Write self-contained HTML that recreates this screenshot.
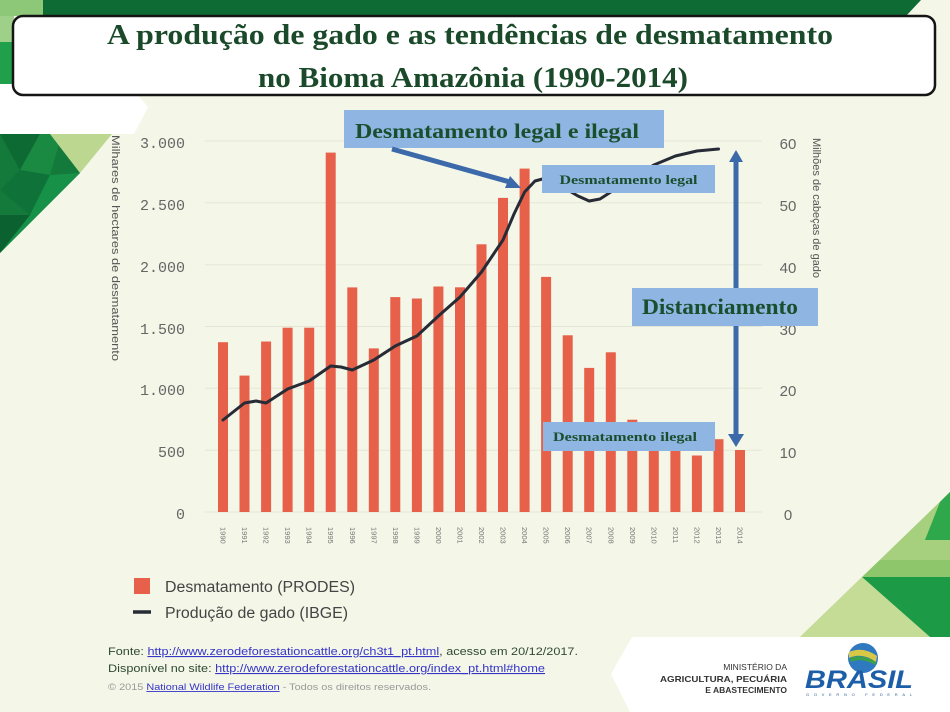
<!DOCTYPE html>
<html><head><meta charset="utf-8"><style>
html,body{margin:0;padding:0;background:#f4f6e8;}
svg{display:block;}
</style></head><body>
<svg width="950" height="712" viewBox="0 0 950 712" xmlns="http://www.w3.org/2000/svg">
<rect width="950" height="712" fill="#f4f6e8"/>
<!-- top band -->
<rect x="0" y="0" width="45" height="16" fill="#8cc878"/>
<polygon points="43,0 921,0 906,16 43,16" fill="#0f6b34"/>
<rect x="0" y="16" width="14" height="26" fill="#9fd08a"/>
<rect x="0" y="42" width="14" height="45" fill="#20a04a"/>
<!-- top-left decoration -->
<polygon points="0,84 128,84 148,107 134,134 0,134" fill="#ffffff"/>
<polygon points="0,134 62,134 80,173 0,253" fill="#137a3b"/>
<polygon points="0,134 40,134 20,170" fill="#0d6a33"/>
<polygon points="20,170 40,134 62,134 50,175" fill="#1a8a43"/>
<polygon points="0,190 20,170 50,175 30,215" fill="#0f7339"/>
<polygon points="0,253 30,215 50,175 80,173" fill="#179048"/>
<polygon points="0,215 30,215 0,253" fill="#0b6230"/>
<polygon points="50,134 112,134 80,173" fill="#bcd78f"/>
<!-- bottom-right decoration -->
<polygon points="800,637 950,492 950,637" fill="#a6cf7e"/>
<polygon points="940,502 950,492 950,540 925,540" fill="#2ea84a"/>
<polygon points="862,577 950,577 950,637 930,637" fill="#1c9a45"/>
<polygon points="800,637 862,577 930,637" fill="#c4dc95"/>
<polygon points="880,560 950,560 950,577 862,577" fill="#8ec66c"/>
<polygon points="632,637 950,637 950,712 630,712 611,674" fill="#ffffff"/>
<!-- title box -->
<rect x="13" y="16" width="922" height="79" rx="10" ry="10" fill="#ffffff" stroke="#151515" stroke-width="2.5"/>
<g font-family="Liberation Serif, serif" font-weight="bold" fill="#1b4a2b" text-anchor="middle">
<text x="470" y="44" font-size="28" textLength="726" lengthAdjust="spacingAndGlyphs">A produção de gado e as tendências de desmatamento</text>
<text x="473" y="87" font-size="28" textLength="430" lengthAdjust="spacingAndGlyphs">no Bioma Amazônia (1990-2014)</text>
</g>
<!-- gridlines -->
<g stroke="#e3e6d6" stroke-width="1">
<line x1="205" y1="141" x2="762" y2="141"/>
<line x1="205" y1="202.8" x2="762" y2="202.8"/>
<line x1="205" y1="264.7" x2="762" y2="264.7"/>
<line x1="205" y1="326.5" x2="762" y2="326.5"/>
<line x1="205" y1="388.3" x2="762" y2="388.3"/>
<line x1="205" y1="450.2" x2="762" y2="450.2"/>
<line x1="205" y1="512" x2="762" y2="512"/>
</g>
<!-- left tick labels -->
<g font-family="Liberation Mono, monospace" font-size="15" fill="#666" text-anchor="end">
<text x="185" y="148">3.000</text>
<text x="185" y="210">2.500</text>
<text x="185" y="272">2.000</text>
<text x="185" y="334">1.500</text>
<text x="185" y="395">1.000</text>
<text x="185" y="457">500</text>
<text x="185" y="519">0</text>
</g>
<!-- right tick labels -->
<g font-family="Liberation Sans, sans-serif" font-size="15" fill="#666" text-anchor="middle">
<text x="788" y="149">60</text>
<text x="788" y="211">50</text>
<text x="788" y="273">40</text>
<text x="788" y="335">30</text>
<text x="788" y="396">20</text>
<text x="788" y="458">10</text>
<text x="788" y="520">0</text>
</g>
<!-- axis titles -->
<text transform="translate(112,135) rotate(90)" font-family="Liberation Sans, sans-serif" font-size="11" fill="#555" textLength="226" lengthAdjust="spacingAndGlyphs">Milhares de hectares de desmatamento</text>
<text transform="translate(813,138) rotate(90)" font-family="Liberation Sans, sans-serif" font-size="11" fill="#555">Milhões de cabeças de gado</text>
<!-- bars -->
<g fill="#e6604a">
<rect x="218.0" y="342.2" width="10" height="169.8"/>
<rect x="239.5" y="375.6" width="10" height="136.4"/>
<rect x="261.1" y="341.5" width="10" height="170.5"/>
<rect x="282.6" y="327.7" width="10" height="184.3"/>
<rect x="304.2" y="327.7" width="10" height="184.3"/>
<rect x="325.7" y="152.6" width="10" height="359.4"/>
<rect x="347.3" y="287.4" width="10" height="224.6"/>
<rect x="368.8" y="348.4" width="10" height="163.6"/>
<rect x="390.3" y="297.1" width="10" height="214.9"/>
<rect x="411.9" y="298.5" width="10" height="213.5"/>
<rect x="433.4" y="286.5" width="10" height="225.5"/>
<rect x="455.0" y="287.3" width="10" height="224.7"/>
<rect x="476.5" y="244.3" width="10" height="267.7"/>
<rect x="498.0" y="197.9" width="10" height="314.1"/>
<rect x="519.6" y="168.6" width="10" height="343.4"/>
<rect x="541.1" y="276.9" width="10" height="235.1"/>
<rect x="562.7" y="335.3" width="10" height="176.7"/>
<rect x="584.2" y="367.9" width="10" height="144.1"/>
<rect x="605.8" y="352.3" width="10" height="159.7"/>
<rect x="627.3" y="419.7" width="10" height="92.3"/>
<rect x="648.8" y="425.4" width="10" height="86.6"/>
<rect x="670.4" y="432.6" width="10" height="79.4"/>
<rect x="691.9" y="455.5" width="10" height="56.5"/>
<rect x="713.5" y="439.2" width="10" height="72.8"/>
<rect x="735.0" y="450.0" width="10" height="62.0"/>
</g>
<!-- year labels -->
<g font-family="Liberation Sans, sans-serif" font-size="7.5" fill="#777">
<text transform="translate(220.5,527) rotate(90)">1990</text>
<text transform="translate(242.0,527) rotate(90)">1991</text>
<text transform="translate(263.6,527) rotate(90)">1992</text>
<text transform="translate(285.1,527) rotate(90)">1993</text>
<text transform="translate(306.7,527) rotate(90)">1994</text>
<text transform="translate(328.2,527) rotate(90)">1995</text>
<text transform="translate(349.8,527) rotate(90)">1996</text>
<text transform="translate(371.3,527) rotate(90)">1997</text>
<text transform="translate(392.8,527) rotate(90)">1998</text>
<text transform="translate(414.4,527) rotate(90)">1999</text>
<text transform="translate(435.9,527) rotate(90)">2000</text>
<text transform="translate(457.5,527) rotate(90)">2001</text>
<text transform="translate(479.0,527) rotate(90)">2002</text>
<text transform="translate(500.5,527) rotate(90)">2003</text>
<text transform="translate(522.1,527) rotate(90)">2004</text>
<text transform="translate(543.6,527) rotate(90)">2005</text>
<text transform="translate(565.2,527) rotate(90)">2006</text>
<text transform="translate(586.7,527) rotate(90)">2007</text>
<text transform="translate(608.3,527) rotate(90)">2008</text>
<text transform="translate(629.8,527) rotate(90)">2009</text>
<text transform="translate(651.3,527) rotate(90)">2010</text>
<text transform="translate(672.9,527) rotate(90)">2011</text>
<text transform="translate(694.4,527) rotate(90)">2012</text>
<text transform="translate(716.0,527) rotate(90)">2013</text>
<text transform="translate(737.5,527) rotate(90)">2014</text>
</g>
<!-- cattle line -->
<polyline fill="none" stroke="#262b35" stroke-width="3" stroke-linejoin="round" stroke-linecap="round"
points="223,420 244.5,403 256,401 266.1,403 287.6,389 309.2,381 330.7,366 341,367 352.3,370 373.8,360 395.3,346 406,341 416.9,336 438.4,316 460,297 481.5,272 503,240 514,214 524.6,192 535,181 546.1,178 557,183 567.7,190 578,196 589.2,201 600,199 610.8,192 632.3,178 653.8,165 675.4,156 696.9,151 718.5,149"/>
<!-- annotation: legal e ilegal -->
<rect x="344" y="110" width="320" height="38" fill="#8fb5e2"/>
<text x="355" y="138" font-family="Liberation Serif, serif" font-weight="bold" font-size="21" fill="#1a4f2e" textLength="284" lengthAdjust="spacingAndGlyphs">Desmatamento legal e ilegal</text>
<line x1="392" y1="149" x2="510" y2="182" stroke="#3c69a9" stroke-width="5"/>
<polygon points="521,188 505,188 510,176" fill="#3c69a9"/>
<!-- legal box -->
<rect x="542" y="165" width="173" height="28" fill="#8fb5e2"/>
<text x="628.5" y="184" text-anchor="middle" font-family="Liberation Serif, serif" font-weight="bold" font-size="13" fill="#1a4f2e" textLength="138" lengthAdjust="spacingAndGlyphs">Desmatamento legal</text>
<!-- vertical double arrow -->
<line x1="736" y1="160" x2="736" y2="436" stroke="#3c69a9" stroke-width="5"/>
<polygon points="736,150 729,162 743,162" fill="#3c69a9"/>
<polygon points="736,447 728,434 744,434" fill="#3c69a9"/>
<!-- Distanciamento box -->
<rect x="632" y="288" width="186" height="38" fill="#8fb5e2"/>
<text x="720" y="314" text-anchor="middle" font-family="Liberation Serif, serif" font-weight="bold" font-size="22" fill="#1a4f2e" textLength="156" lengthAdjust="spacingAndGlyphs">Distanciamento</text>
<!-- ilegal box -->
<rect x="543" y="422" width="172" height="29" fill="#8fb5e2"/>
<text x="625" y="441" text-anchor="middle" font-family="Liberation Serif, serif" font-weight="bold" font-size="13" fill="#1a4f2e" textLength="144" lengthAdjust="spacingAndGlyphs">Desmatamento ilegal</text>
<!-- legend -->
<rect x="134" y="578" width="16" height="16" fill="#e6604a"/>
<text x="165" y="592" font-family="Liberation Sans, sans-serif" font-size="15.5" fill="#444" textLength="190" lengthAdjust="spacingAndGlyphs">Desmatamento (PRODES)</text>
<line x1="133" y1="612" x2="151" y2="612" stroke="#262b35" stroke-width="3.5"/>
<text x="165" y="618" font-family="Liberation Sans, sans-serif" font-size="15.5" fill="#444" textLength="183" lengthAdjust="spacingAndGlyphs">Produção de gado (IBGE)</text>
<!-- footer -->
<g font-family="Liberation Sans, sans-serif" font-size="11">
<text x="108" y="655" fill="#2f4a2f" textLength="470" lengthAdjust="spacingAndGlyphs">Fonte: <tspan fill="#3535c8" text-decoration="underline">http://www.zerodeforestationcattle.org/ch3t1_pt.html</tspan>, acesso em 20/12/2017.</text>
<text x="108" y="672" fill="#2f4a2f" textLength="437" lengthAdjust="spacingAndGlyphs">Disponível no site: <tspan fill="#3535c8" text-decoration="underline">http://www.zerodeforestationcattle.org/index_pt.html#home</tspan></text>
</g>
<text x="108" y="690" font-family="Liberation Sans, sans-serif" font-size="9" fill="#999" textLength="323" lengthAdjust="spacingAndGlyphs">© 2015 <tspan fill="#3535c8" text-decoration="underline">National Wildlife Federation</tspan> - Todos os direitos reservados.</text>
<!-- ministry -->
<g font-family="Liberation Sans, sans-serif" font-size="8.5" fill="#333" text-anchor="end">
<text x="787" y="670">MINISTÉRIO DA</text>
<text x="787" y="682" font-weight="bold" textLength="127" lengthAdjust="spacingAndGlyphs">AGRICULTURA, PECUÁRIA</text>
<text x="787" y="693" font-weight="bold">E ABASTECIMENTO</text>
</g>
<!-- Brasil logo -->
<circle cx="863" cy="658" r="15" fill="#2f79c0"/>
<path d="M849,652 Q863,646 877,656 L876,662 Q862,652 849,658 Z" fill="#d8c845"/>
<path d="M850,658 Q862,653 876,662 L875,665 Q862,657 851,662 Z" fill="#3aa04a"/>
<text x="805" y="688" font-family="Liberation Sans, sans-serif" font-weight="bold" font-style="italic" font-size="25" fill="#1d5ea9" textLength="108" lengthAdjust="spacingAndGlyphs">BRASIL</text>
<text x="806" y="696" font-family="Liberation Sans, sans-serif" font-size="4" fill="#2b5f9a" textLength="106" lengthAdjust="spacing">GOVERNO FEDERAL</text>
</svg>
</body></html>
